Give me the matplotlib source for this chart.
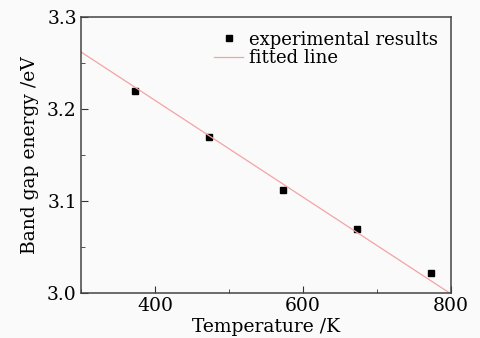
import matplotlib.pyplot as plt
from matplotlib.ticker import MultipleLocator

# data
temp_k = [373, 473, 573, 673, 773]
band_gap = [3.22, 3.17, 3.112, 3.07, 3.022]
fit_x = [300, 800]
fit_y = [3.262, 2.999]

plt.rcParams['font.family'] = ['DejaVu Serif']

fig = plt.figure(figsize=(4.8, 3.38), dpi=100, facecolor='#fafafa')
ax = fig.add_axes([81/480, 1 - 293/338, 370/480, 276/338])
ax.set_facecolor('#fafafa')

ax.plot(temp_k, band_gap, 's', color='black', markersize=4.2,
        label='experimental results')
ax.plot(fit_x, fit_y, '-', color='#f4a3a3', linewidth=0.9, label='fitted line')

ax.set_xlim(300, 800)
ax.set_ylim(3.0, 3.3)
ax.xaxis.set_major_locator(MultipleLocator(200))
ax.xaxis.set_minor_locator(MultipleLocator(100))
ax.yaxis.set_major_locator(MultipleLocator(0.1))
ax.yaxis.set_minor_locator(MultipleLocator(0.05))
ax.yaxis.set_major_formatter('{x:.1f}')

ax.tick_params(which='both', direction='in', top=False, right=False,
               labelsize=13.5, color='#333333', pad=3)
ax.tick_params(which='major', length=5)
ax.tick_params(which='minor', length=3)
for s in ax.spines.values():
    s.set_color('#444444')
    s.set_linewidth(1.1)

ax.set_xlabel('Temperature /K', fontsize=13.5, labelpad=2)
ax.set_ylabel('Band gap energy /eV', fontsize=13.5, labelpad=6)

ax.legend(loc='upper right', frameon=False, fontsize=13, handlelength=1.6,
          handletextpad=0.3, labelspacing=0.05, borderaxespad=0.35,
          bbox_to_anchor=(1.0, 1.0))

fig.savefig('out.png', dpi=100, facecolor=fig.get_facecolor())
